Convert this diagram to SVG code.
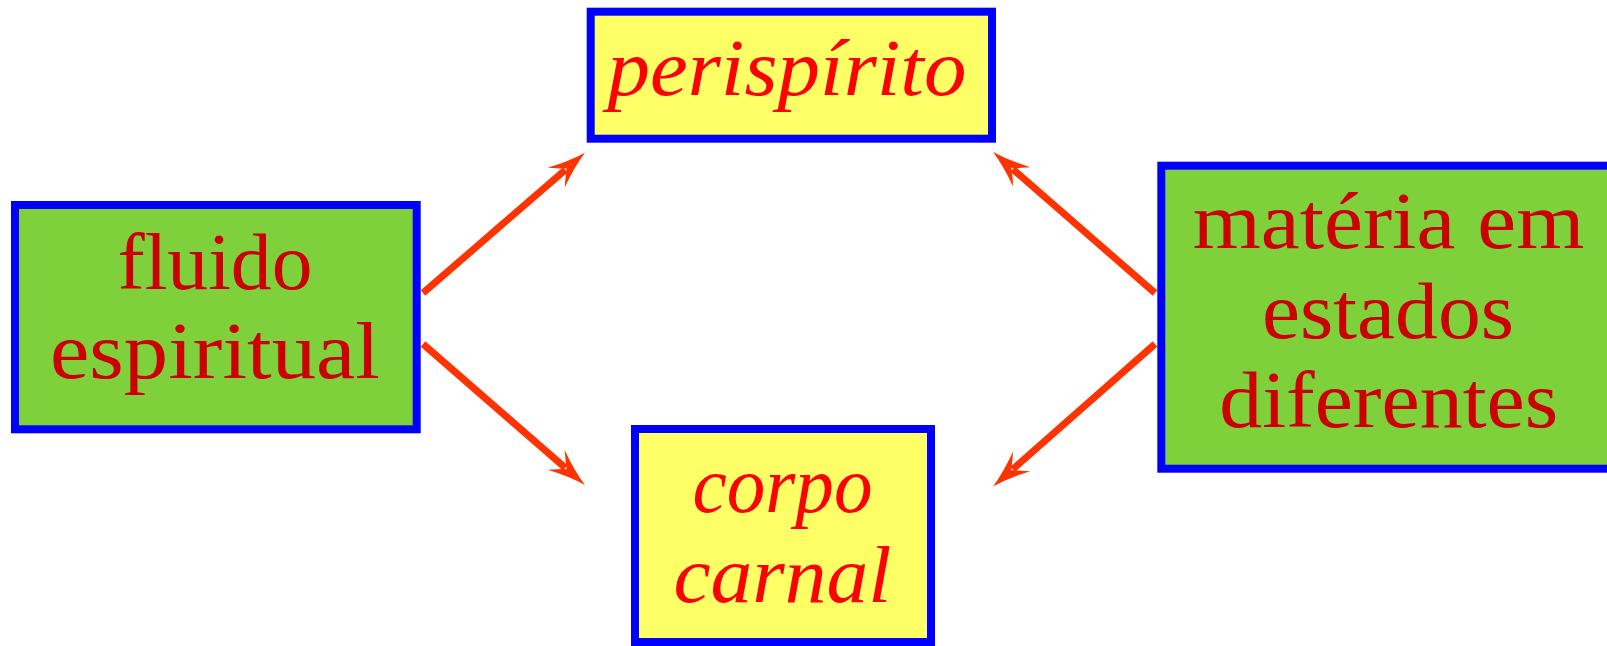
<svg xmlns="http://www.w3.org/2000/svg" width="1607" height="646" viewBox="0 0 1607 646">
<defs>
<style>
.green{fill:#7fd13b;stroke:#0000ff;stroke-width:8}
.yellow{fill:#ffff66;stroke:#0000ff;stroke-width:8}
.rm{font-family:"Liberation Serif","Times New Roman",serif;font-size:80px;fill:#cc0000;text-anchor:middle}
.it{font-family:"Liberation Serif","Times New Roman",serif;font-style:italic;font-size:80px;fill:#ff0000;text-anchor:middle}
.arr{stroke:#ff3300;stroke-width:7;fill:none;marker-end:url(#ah)}
</style>
<marker id="ah" viewBox="0 -14 42 28" refX="12" refY="0" markerWidth="42" markerHeight="28" markerUnits="userSpaceOnUse" orient="auto">
<path d="M38,0 Q20,-4 0,-13 Q11,-2 14,0 Q11,2 0,13 Q20,4 38,0 Z" fill="#ff3300"/>
</marker>
</defs>
<rect width="1607" height="646" fill="#ffffff"/>
<g id="connectors">
<line class="arr" x1="423" y1="293" x2="565.3" y2="169.8"/>
<line class="arr" x1="423" y1="344" x2="565.3" y2="467.9"/>
<line class="arr" x1="1155" y1="293" x2="1012.7" y2="169.1"/>
<line class="arr" x1="1155" y1="344" x2="1012.6" y2="469.3"/>
</g>
<g id="fluido">
<rect class="green" x="15" y="205" width="401.7" height="224.3"/>
<text class="rm" x="215" y="289" textLength="195" lengthAdjust="spacingAndGlyphs">fluido</text>
<text class="rm" x="215" y="378" textLength="330" lengthAdjust="spacingAndGlyphs">espiritual</text>
</g>
<g id="perispirito">
<rect class="yellow" x="590.7" y="11.7" width="401.3" height="127"/>
<text class="it" x="787" y="95" textLength="359" lengthAdjust="spacingAndGlyphs">perispírito</text>
</g>
<g id="corpo">
<rect class="yellow" x="635" y="429" width="296" height="213"/>
<text class="it" x="782.5" y="511.7" textLength="180" lengthAdjust="spacingAndGlyphs">corpo</text>
<text class="it" x="782.5" y="601.7" textLength="218" lengthAdjust="spacingAndGlyphs">carnal</text>
</g>
<g id="materia">
<rect class="green" x="1161.3" y="165.7" width="460" height="303"/>
<text class="rm" x="1388.5" y="248" textLength="391.6" lengthAdjust="spacingAndGlyphs">matéria em</text>
<text class="rm" x="1388" y="337.7" textLength="252" lengthAdjust="spacingAndGlyphs">estados</text>
<text class="rm" x="1388.7" y="426.7" textLength="339" lengthAdjust="spacingAndGlyphs">diferentes</text>
</g>
</svg>
